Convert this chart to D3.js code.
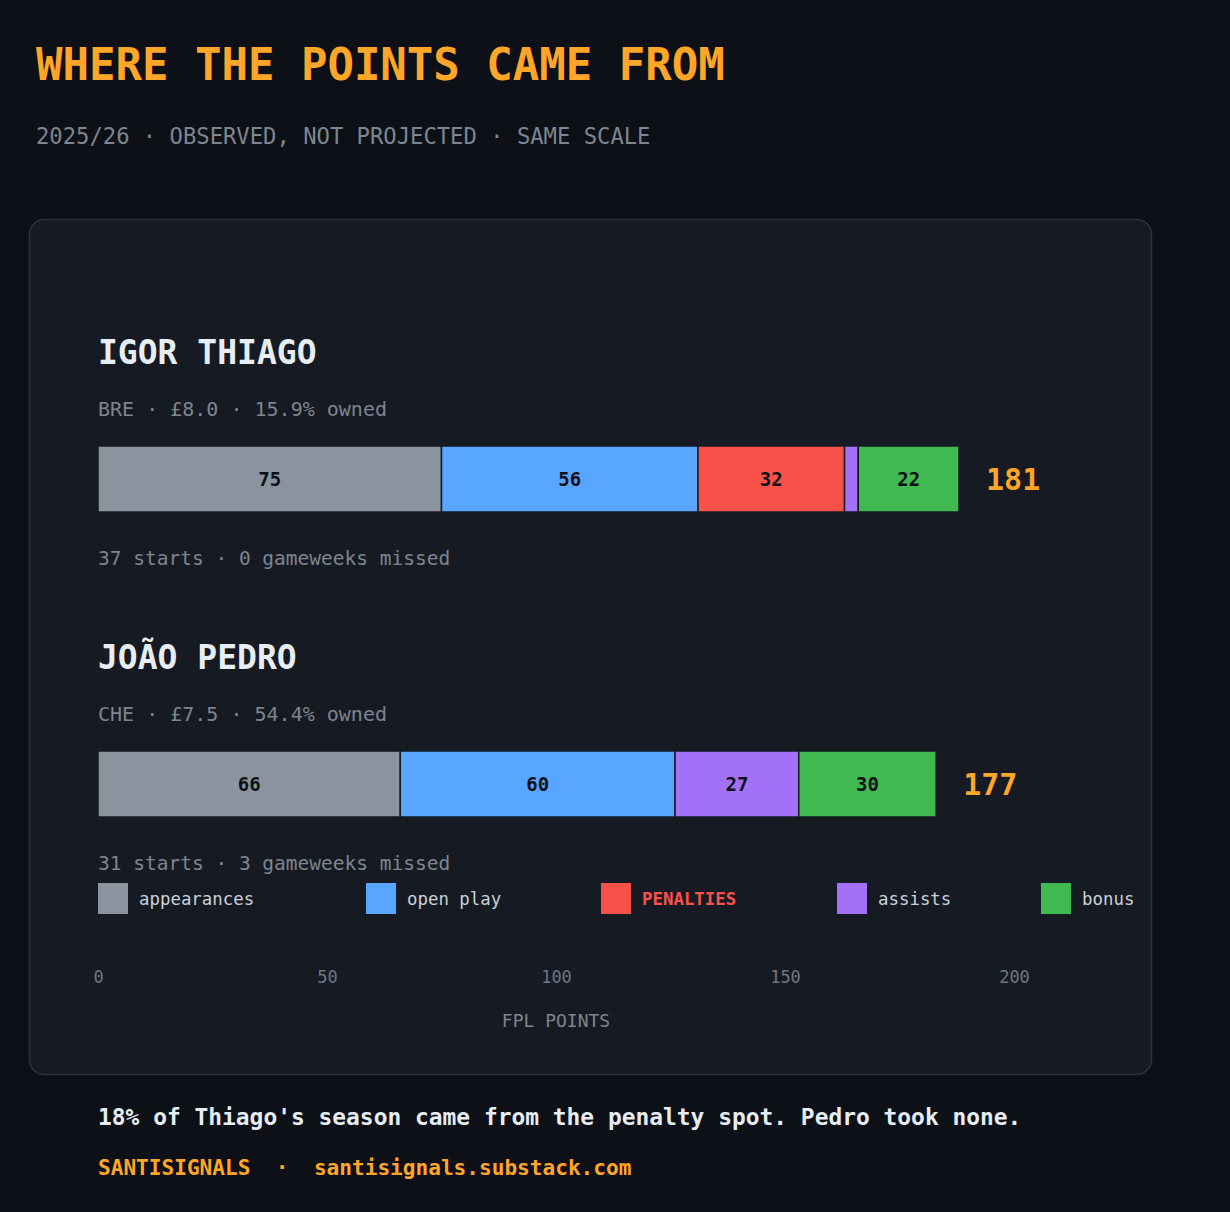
<!DOCTYPE html>
<html>
<head>
<meta charset="utf-8">
<script src="https://cdn.jsdelivr.net/npm/d3@7"></script>
<style>
  html, body { margin: 0; padding: 0; background: #0d1017; }
  svg { display: block; font-family: "DejaVu Sans Mono", monospace; }
  text { white-space: pre; }
</style>
</head>
<body>
<div id="chart"></div>
<script>
// chart values
var players = ["IGOR THIAGO", "JOÃO PEDRO"];
var playerMeta = ["BRE · £8.0 · 15.9% owned", "CHE · £7.5 · 54.4% owned"];
var playerNotes = ["37 starts · 0 gameweeks missed", "31 starts · 3 gameweeks missed"];
var totals = [181, 177];

var categories = ["appearances", "open play", "PENALTIES", "assists", "bonus"];
var appearances = [75, 66];
var openPlay = [56, 60];
var penalties = [32, 0];
var assists = [3, 27];
var bonus = [22, 30];

var tickValues = [0, 50, 100, 150, 200];

var COLORS = ["#8b949e", "#58a6ff", "#f85149", "#a371f7", "#3fb950"];
var ORANGE = "#ffa629";

function drawChart(elementId) {
  var width = 1230, height = 1212;

  var svg = d3.select("#" + elementId).append("svg")
      .attr("width", width)
      .attr("height", height);

  svg.append("rect")
      .attr("width", width).attr("height", height)
      .attr("fill", "#0d1017");

  // header
  svg.append("text")
      .attr("x", 36).attr("y", 80)
      .attr("fill", ORANGE)
      .style("font-size", "44px").style("font-weight", "bold")
      .text("WHERE THE POINTS CAME FROM");

  svg.append("text")
      .attr("x", 36).attr("y", 144)
      .attr("fill", "#7d8590")
      .style("font-size", "22.2px")
      .text("2025/26 · OBSERVED, NOT PROJECTED · SAME SCALE");

  // card
  svg.append("rect")
      .attr("x", 29.5).attr("y", 219.5)
      .attr("width", 1122).attr("height", 855)
      .attr("rx", 15)
      .attr("fill", "#161a22")
      .attr("stroke", "#2d333b")
      .attr("stroke-width", 1.5);

  // scales
  var x = d3.scaleLinear()
      .domain([0, 200])
      .range([98, 1014]);

  var y = d3.scalePoint()
      .domain(players)
      .range([446, 751]);

  var barHeight = 66;

  var color = d3.scaleOrdinal()
      .domain(categories)
      .range(COLORS);

  // rows for the stack
  var rows = players.map(function(p, i) {
    var r = {player: p};
    r[categories[0]] = appearances[i];
    r[categories[1]] = openPlay[i];
    r[categories[2]] = penalties[i];
    r[categories[3]] = assists[i];
    r[categories[4]] = bonus[i];
    return r;
  });

  var series = d3.stack().keys(categories)(rows);

  // player text blocks
  var heads = svg.selectAll(".player").data(players).enter().append("g")
      .attr("class", "player");

  heads.append("text")
      .attr("x", x(0))
      .attr("y", function(d) { return y(d) - 82; })
      .attr("fill", "#e6edf3")
      .style("font-size", "33px").style("font-weight", "bold")
      .text(function(d) { return d; });

  heads.append("text")
      .attr("x", x(0))
      .attr("y", function(d) { return y(d) - 30; })
      .attr("fill", "#7d8590")
      .style("font-size", "20px")
      .text(function(d, i) { return playerMeta[i]; });

  heads.append("text")
      .attr("x", x(0))
      .attr("y", function(d) { return y(d) + barHeight + 53; })
      .attr("fill", "#7d8590")
      .style("font-size", "19.5px")
      .text(function(d, i) { return playerNotes[i]; });

  // stacked segments
  var layers = svg.selectAll(".layer").data(series).enter().append("g")
      .attr("class", "layer")
      .attr("fill", function(d) { return color(d.key); });

  layers.selectAll("rect")
      .data(function(d) { return d.filter(function(s) { return s[1] > s[0]; }); })
      .enter().append("rect")
      .attr("x", function(d) { return x(d[0]); })
      .attr("y", function(d) { return y(d.data.player); })
      .attr("width", function(d) { return x(d[1]) - x(d[0]); })
      .attr("height", barHeight)
      .attr("stroke", "#161a22")
      .attr("stroke-width", 1.5);

  layers.selectAll(".seg-label")
      .data(function(d) { return d.filter(function(s) { return s[1] - s[0] >= 8; }); })
      .enter().append("text")
      .attr("class", "seg-label")
      .attr("x", function(d) { return (x(d[0]) + x(d[1])) / 2; })
      .attr("y", function(d) { return y(d.data.player) + barHeight / 2 + 7; })
      .attr("text-anchor", "middle")
      .attr("fill", "#0d1117")
      .style("font-size", "19px").style("font-weight", "bold")
      .text(function(d) { return d[1] - d[0]; });

  // totals next to each bar
  var last = series[series.length - 1];
  svg.selectAll(".total").data(last).enter().append("text")
      .attr("class", "total")
      .attr("x", function(d) { return x(d[1]) + 27; })
      .attr("y", function(d) { return y(d.data.player) + barHeight / 2 + 11; })
      .attr("fill", ORANGE)
      .style("font-size", "30px").style("font-weight", "bold")
      .text(function(d, i) { return totals[i]; });

  // legend row (slots as laid out in the original)
  var legendSlots = [98, 366, 601, 837, 1041];
  var legend = svg.append("g").attr("class", "legend");
  var items = legend.selectAll("g").data(categories).enter().append("g")
      .attr("transform", function(d, i) { return "translate(" + legendSlots[i] + ",0)"; });

  items.append("rect")
      .attr("y", 883)
      .attr("width", 30).attr("height", 31)
      .attr("fill", function(d) { return color(d); });

  items.append("text")
      .attr("x", 41)
      .attr("y", 905)
      .attr("fill", function(d, i) { return i === 2 ? "#f85149" : "#c9d1d9"; })
      .style("font-size", "17.4px")
      .style("font-weight", function(d, i) { return i === 2 ? "bold" : "normal"; })
      .text(function(d) { return d; });

  // axis (labels only)
  var xAxis = d3.axisBottom(x)
      .tickValues(tickValues)
      .tickSize(0)
      .tickPadding(0);

  var axisG = svg.append("g")
      .attr("class", "x-axis")
      .attr("transform", "translate(0,968)")
      .call(xAxis);

  axisG.select(".domain").remove();
  axisG.selectAll("text")
      .attr("dy", "0.9em")
      .attr("fill", "#6e7681")
      .style("font-family", "DejaVu Sans Mono, monospace")
      .style("font-size", "17px");

  svg.append("text")
      .attr("x", (x.range()[0] + x.range()[1]) / 2)
      .attr("y", 1027)
      .attr("text-anchor", "middle")
      .attr("fill", "#7d8590")
      .style("font-size", "18px")
      .text("FPL POINTS");

  // footer
  svg.append("text")
      .attr("x", x(0)).attr("y", 1125)
      .attr("fill", "#e6edf3")
      .style("font-size", "22.9px").style("font-weight", "bold")
      .text("18% of Thiago's season came from the penalty spot. Pedro took none.");

  svg.append("text")
      .attr("x", x(0)).attr("y", 1175)
      .attr("fill", ORANGE)
      .style("font-size", "21.1px").style("font-weight", "bold")
      .text("SANTISIGNALS  ·  santisignals.substack.com");
}

drawChart("chart");
</script>
</body>
</html>
